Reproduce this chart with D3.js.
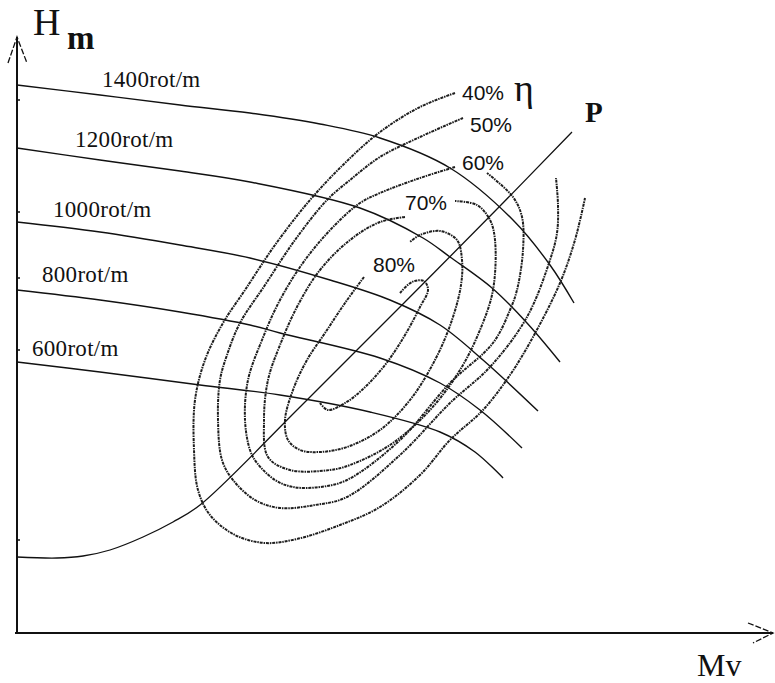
<!DOCTYPE html>
<html>
<head>
<meta charset="utf-8">
<script src="https://cdn.jsdelivr.net/npm/d3@7/dist/d3.min.js"></script>
<style>
  body { margin: 0; background: #fff; }
  svg { display: block; }
</style>
</head>
<body>
<div id="chart"></div>
<script>
// Mv (flow) on x, H (head) on y, arbitrary units
const speeds = [1400, 1200, 1000, 800, 600];
const speedCurves = [
  [[0,548],[83,538],[163,528],[233,520],[303,509],[363,495],[433,465],[496,413],[533,368],[557,330]],
  [[0,485],[83,473],[163,462],[233,451],[343,425],[406,395],[433,376],[475,345],[510,310],[543,271]],
  [[0,411],[83,401],[163,388],[233,375],[313,353],[373,333],[423,308],[466,273],[521,222]],
  [[0,343],[83,333],[163,321],[233,308],[263,300],[363,275],[423,250],[463,223],[505,185]],
  [[0,271],[83,261],[183,248],[263,238],[353,221],[423,201],[458,181],[486,155]]
];
const speedLabelPos = [[85,546],[58,486],[36,416],[25,351],[15,277]];

// system curve P
const pCurve = [[0,76],[40,75],[66,77],[93,83],[126,96],[156,111],[183,128],[283,226],[383,326],[483,427],[555,501]];

// efficiency contours
const effLabels = ['40%', '50%', '60%', '70%', '80%'];
const effLabelPos = [[445,533],[453,501],[445,463],[388,423],[356,361]];
const eff40 = [[438,540],[403,526],[363,501],[328,470],[293,433],[258,388],[228,343],[206,310],[188,273],[178,233],[177,183],[181,143],[193,118],[218,98],[248,90],[280,94],[323,108],[363,126],[403,158],[433,193],[466,223],[493,258],[516,296],[543,350],[558,393],[568,435]];
const eff50 = [[446,515],[403,496],[363,476],[333,453],[310,433],[278,393],[248,348],[223,310],[210,278],[203,253],[201,213],[205,173],[216,153],[238,133],[263,125],[298,128],[330,136],[383,178],[433,230],[473,266],[510,316],[533,373],[540,400],[541,428],[539,455]];
const eff60 = [[438,466],[403,455],[363,440],[343,430],[318,408],[288,373],[263,333],[245,293],[231,253],[228,213],[233,183],[240,170],[258,153],[276,146],[303,146],[330,153],[383,193],[433,250],[476,290],[493,323],[500,343],[506,383],[505,416],[496,436],[470,460]];
const eff70 = [[388,416],[363,411],[333,393],[303,363],[281,328],[263,288],[251,253],[247,213],[251,176],[273,163],[313,163],[333,168],[373,188],[413,223],[443,263],[463,303],[476,343],[478,393],[473,413],[460,428],[438,432]];
const eff80 = [[347,356],[328,330],[308,300],[290,273],[276,243],[268,213],[271,193],[283,183],[303,181],[330,186],[363,203],[393,233],[418,273],[435,313],[444,348],[445,373],[440,393],[423,402],[403,398],[393,391]];
const effCore = [[383,340],[395,351],[407,352],[411,343],[403,326],[388,298],[368,268],[345,243],[328,230],[311,223],[303,230]];
const effCurves = [eff40, eff50, eff60, eff70, eff80, effCore];

const yTickMarks = [533, 421, 355, 283, 93];

const width = 775, height = 683;

const svg = d3.select('#chart')
  .append('svg')
  .attr('width', width)
  .attr('height', height);

const x = d3.scaleLinear().domain([0, 750]).range([17, 767]);
const y = d3.scaleLinear().domain([0, 600]).range([633, 33]);

const line = d3.line()
  .x(d => x(d[0]))
  .y(d => y(d[1]))
  .curve(d3.curveCatmullRom.alpha(0.5));

// axes
svg.append('line')
  .attr('x1', x(0)).attr('y1', y(0))
  .attr('x2', x(0)).attr('y2', y(596))
  .attr('stroke', '#111').attr('stroke-width', 2);
svg.append('line')
  .attr('x1', x(-2)).attr('y1', y(0))
  .attr('x2', x(756)).attr('y2', y(0))
  .attr('stroke', '#111').attr('stroke-width', 2);

// open arrow heads
svg.append('path')
  .attr('d', `M${x(-9)},${y(570)} L${x(0)},${y(596)} L${x(10)},${y(570)}`)
  .attr('fill', 'none').attr('stroke', '#111').attr('stroke-width', 1.3)
  .attr('stroke-dasharray', '6,2');
svg.append('path')
  .attr('d', `M${x(731)},${y(10)} L${x(756)},${y(0)} L${x(736)},${y(-10)}`)
  .attr('fill', 'none').attr('stroke', '#111').attr('stroke-width', 1.3)
  .attr('stroke-dasharray', '6,2');

svg.selectAll('.ytick')
  .data(yTickMarks)
  .enter()
  .append('line')
  .attr('class', 'ytick')
  .attr('x1', x(0)).attr('x2', x(3))
  .attr('y1', d => y(d)).attr('y2', d => y(d))
  .attr('stroke', '#111').attr('stroke-width', 1.5);

// speed curves
svg.selectAll('.speed')
  .data(speedCurves)
  .enter()
  .append('path')
  .attr('class', 'speed')
  .attr('d', line)
  .attr('fill', 'none')
  .attr('stroke', '#111')
  .attr('stroke-width', 1.4);

svg.selectAll('.speed-label')
  .data(speeds)
  .enter()
  .append('text')
  .attr('class', 'speed-label')
  .attr('x', (d, i) => x(speedLabelPos[i][0]))
  .attr('y', (d, i) => y(speedLabelPos[i][1]))
  .attr('font-family', '"Liberation Serif", "DejaVu Serif", serif')
  .attr('font-size', '23px')
  .attr('letter-spacing', '0.3px')
  .attr('fill', '#111')
  .text(d => d + 'rot/m');

// efficiency contours (rough hand-drawn look)
svg.selectAll('.eff')
  .data(effCurves)
  .enter()
  .append('path')
  .attr('class', 'eff')
  .attr('d', line)
  .attr('fill', 'none')
  .attr('stroke', '#1e1e1e')
  .attr('stroke-width', 2)
  .attr('stroke-dasharray', '3,0.9,1.5,0.9');

svg.selectAll('.eff-label')
  .data(effLabels)
  .enter()
  .append('text')
  .attr('class', 'eff-label')
  .attr('x', (d, i) => x(effLabelPos[i][0]))
  .attr('y', (d, i) => y(effLabelPos[i][1]))
  .attr('font-family', '"Liberation Sans", Arial, sans-serif')
  .attr('font-size', '21px')
  .attr('fill', '#111')
  .text(d => d);

// P line
svg.append('path')
  .datum(pCurve)
  .attr('d', line)
  .attr('fill', 'none')
  .attr('stroke', '#111')
  .attr('stroke-width', 1.3);

svg.append('text')
  .attr('x', x(568)).attr('y', y(511))
  .attr('font-family', '"Liberation Serif", serif')
  .attr('font-size', '29px')
  .attr('font-weight', 'bold')
  .attr('fill', '#111')
  .text('P');

svg.append('text')
  .attr('x', x(497)).attr('y', y(532))
  .attr('font-family', '"Liberation Serif", "DejaVu Serif", serif')
  .attr('font-size', '38px')
  .attr('fill', '#111')
  .text('η');

// axis titles
svg.append('text')
  .attr('x', 33).attr('y', 35)
  .attr('font-family', '"Liberation Serif", serif')
  .attr('font-size', '38px')
  .attr('fill', '#111')
  .text('H');
svg.append('text')
  .attr('x', 67).attr('y', 49)
  .attr('font-family', '"Liberation Serif", serif')
  .attr('font-size', '33px')
  .attr('font-weight', 'bold')
  .attr('fill', '#111')
  .text('m');
svg.append('text')
  .attr('x', 697).attr('y', 676)
  .attr('font-family', '"Liberation Serif", serif')
  .attr('font-size', '32px')
  .attr('fill', '#111')
  .text('Mv');
</script>
</body>
</html>
